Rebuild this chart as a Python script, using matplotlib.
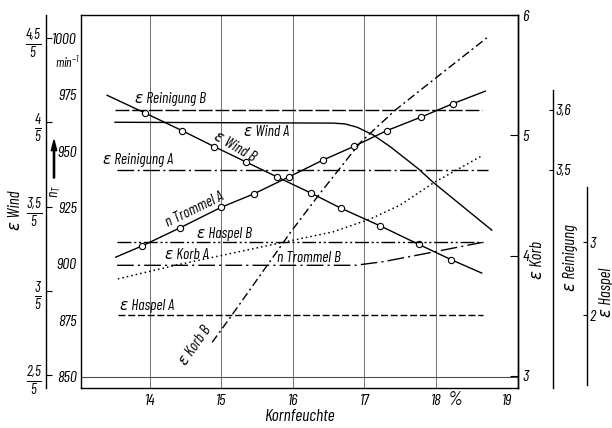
import matplotlib
matplotlib.use("Agg")
import matplotlib.pyplot as plt
from matplotlib import font_manager
from matplotlib.patches import FancyArrow

# Kornfeuchte in %
wind_a_x = [13.51, 16.56, 16.73, 16.90, 17.12, 17.36, 17.75, 17.97, 18.78]
wind_a = [0.800, 0.799, 0.798, 0.794, 0.785, 0.771, 0.745, 0.728, 0.672]

wind_b_x = [13.40, 13.93, 14.45, 14.90, 15.34, 15.78, 16.25, 16.67, 17.22, 17.76, 18.21, 18.64]
wind_b = [0.832, 0.811, 0.790, 0.771, 0.753, 0.735, 0.716, 0.698, 0.677, 0.655, 0.637, 0.621]

trommel_a_x = [13.52, 13.89, 14.42, 14.99, 15.45, 15.94, 16.42, 16.85, 17.31, 17.79, 18.24, 18.69]
trommel_a = [903, 908, 916, 925, 931, 938.5, 946, 952, 959, 965, 971, 976.5]

trommel_b_x = [13.55, 14.38, 15.82, 16.56, 17.08, 17.50, 17.96, 18.66]
trommel_b = [893.4, 899.6, 909.3, 914.2, 919.9, 926.1, 935.8, 948.2]

korb_a_x = [13.54, 16.87, 17.26, 17.96, 18.64]
korb_a = [3.92, 3.92, 3.95, 4.03, 4.11]

korb_b_x = [14.87, 15.15, 15.64, 15.96, 16.38, 16.94, 17.43, 17.96, 18.73]
korb_b = [3.28, 3.51, 3.92, 4.19, 4.52, 4.94, 5.21, 5.46, 5.82]

reinigung_a_x = [13.54, 18.73]
reinigung_a = [3.5, 3.5]
reinigung_b_x = [13.51, 18.64]
reinigung_b = [3.6, 3.6]

haspel_a_x = [13.55, 18.66]
haspel_a = [2.0, 2.0]
haspel_b_x = [13.54, 18.66]
haspel_b = [3.0, 3.0]

x_ticks = [14, 15, 16, 17, 18, 19]
n_ticks = [850, 875, 900, 925, 950, 975, 1000]
wind_ticks = [0.5, 0.6, 0.7, 0.8, 0.9]
wind_labels = [r"$\frac{2{,}5}{5}$", r"$\frac{3}{5}$", r"$\frac{3{,}5}{5}$", r"$\frac{4}{5}$", r"$\frac{4{,}5}{5}$"]
korb_ticks = [3, 4, 5, 6]
rein_ticks = [3.5, 3.6]
rein_labels = ["3,5", "3,6"]
haspel_ticks = [2, 3]

# schmale Schrift suchen (wie DIN-Normschrift)
installed = {f.name for f in font_manager.fontManager.ttflist}
font = "DejaVu Sans"
for cand in ["Barlow Condensed", "Barlow Semi Condensed", "Roboto Condensed", "Liberation Sans Narrow"]:
    if cand in installed:
        font = cand
        break

plt.rcParams["font.family"] = [font, "DejaVu Sans"]
plt.rcParams["font.style"] = "italic"
plt.rcParams["font.size"] = 11
plt.rcParams["mathtext.fontset"] = "custom"
plt.rcParams["mathtext.rm"] = font + ":italic"
plt.rcParams["mathtext.it"] = font + ":italic"
plt.rcParams["mathtext.default"] = "it"
plt.rcParams["axes.linewidth"] = 1.0

fig = plt.figure(figsize=(6.12, 4.28), dpi=100)
ax = fig.add_axes([81 / 612, 1 - 388 / 428, 437 / 612, 373 / 428])
ax.set_xlim(13.035, 19.147)
ax.set_ylim(845.1, 1010.2)

# senkrechte Gitterlinien
for xt in x_ticks[:-1]:
    ax.axvline(xt, color="0.35", lw=0.6, zorder=0)
ax.axhline(n_ticks[0], color="0.3", lw=0.8, zorder=0)

ax.set_xticks(x_ticks)
ax.tick_params(axis="x", length=0, pad=4, labelsize=11.5)
ax.set_yticks(n_ticks)
ax.tick_params(axis="y", length=0, pad=3, labelsize=11.5)
ax.set_xlabel("Kornfeuchte", labelpad=1, fontsize=12.5)

# Drehzahl der Trommel (linke Achse)
ax.plot(trommel_a_x, trommel_a, color="k", lw=1.0, marker="o", ms=4.5,
        mfc="white", mew=0.8, markevery=slice(1, -1))
ax.plot(trommel_b_x, trommel_b, color="k", lw=1.1, dashes=(1, 2))

# E Wind - aeussere linke Achse
ax_wind = ax.twinx()
ax_wind.set_ylim(0.4846, 0.9273)
ax_wind.spines["left"].set_visible(True)
ax_wind.spines["left"].set_position(("axes", -0.0801))
ax_wind.spines["right"].set_visible(False)
ax_wind.spines["top"].set_visible(False)
ax_wind.spines["bottom"].set_visible(False)
ax_wind.yaxis.set_ticks_position("left")
ax_wind.yaxis.set_label_position("left")
ax_wind.set_yticks(wind_ticks)
ax_wind.set_yticklabels(wind_labels, fontsize=15)
ax_wind.tick_params(axis="y", direction="in", length=4, pad=3)
ax_wind.plot(wind_a_x, wind_a, color="k", lw=1.0)
ax_wind.plot(wind_b_x, wind_b, color="k", lw=1.0, marker="o", ms=4.5,
             mfc="white", mew=0.8, markevery=slice(1, -1))

# E Korb - rechte Achse am Rahmen
ax_korb = ax.twinx()
ax_korb.set_ylim(2.900, 6.001)
ax_korb.spines["top"].set_visible(False)
ax_korb.spines["bottom"].set_visible(False)
ax_korb.spines["left"].set_visible(False)
ax_korb.set_yticks(korb_ticks)
ax_korb.tick_params(axis="y", direction="in", length=6, pad=3, labelsize=11.5)
ax_korb.plot(korb_a_x, korb_a, color="k", lw=1.0, dashes=(12, 3, 1.5, 3))
ax_korb.plot(korb_b_x, korb_b, color="k", lw=1.0, dashes=(6, 2.5, 1.5, 2.5))

# E Reinigung
ax_rein = ax.twinx()
ax_rein.set_ylim(3.1367, 3.758)
for s in ["top", "bottom", "left"]:
    ax_rein.spines[s].set_visible(False)
ax_rein.spines["right"].set_position(("axes", 472 / 437))
ax_rein.spines["right"].set_bounds(3.1367, 3.633)
ax_rein.set_yticks(rein_ticks)
ax_rein.set_yticklabels(rein_labels)
ax_rein.tick_params(axis="y", direction="in", length=3, pad=2, labelsize=11.5)
ax_rein.plot(reinigung_a_x, reinigung_a, color="k", lw=1.0, dashes=(12, 2.5, 1.5, 2.5))
ax_rein.plot(reinigung_b_x, reinigung_b, color="k", lw=1.0, dashes=(10, 2))

# E Haspel
ax_hasp = ax.twinx()
ax_hasp.set_ylim(1.0, 6.11)
for s in ["top", "bottom", "left"]:
    ax_hasp.spines[s].set_visible(False)
ax_hasp.spines["right"].set_position(("axes", 506 / 437))
ax_hasp.spines["right"].set_bounds(1.041, 3.753)
ax_hasp.set_yticks(haspel_ticks)
ax_hasp.tick_params(axis="y", direction="in", length=3, pad=2, labelsize=11.5)
ax_hasp.plot(haspel_a_x, haspel_a, color="k", lw=1.0, dashes=(5, 2))
ax_hasp.plot(haspel_b_x, haspel_b, color="k", lw=1.0, dashes=(10, 2, 1.5, 2, 1.5, 2))

# Beschriftungen der Kurven
ax.text(13.79, 973, "ε Reinigung B", ha="left", va="center")
ax.text(15.31, 958.4, "ε Wind A", ha="left", va="center")
ax.text(15.19, 952, "ε Wind B", ha="center", va="center", rotation=-30)
ax.text(13.34, 946, "ε Reinigung A", ha="left", va="center")
ax.text(14.63, 924, "n Trommel A", ha="center", va="center", rotation=26)
ax.text(14.66, 913.3, "ε Haspel B", ha="left", va="center")
ax.text(14.21, 904, "ε Korb A", ha="left", va="center")
ax.text(15.78, 902.7, "n Trommel B", ha="left", va="center")
ax.text(13.58, 881.4, "ε Haspel A", ha="left", va="center")
ax.text(14.63, 863.7, "ε Korb B", ha="center", va="center", rotation=55)

# Achsenbeschriftungen aussen
fig.text(455 / 612, 1 - 400 / 428, "%", ha="center", va="center", fontsize=14)
fig.text(67 / 612, 1 - 63 / 428, "min$^{-1}$", ha="center", va="center", fontsize=9.5)
fig.text(56 / 612, 1 - 191 / 428, "n$_T$", ha="center", va="center", rotation=90)
fig.add_artist(FancyArrow(54 / 612, 1 - 178 / 428, 0, 38 / 428,
                          width=0.002, head_width=0.009, head_length=0.025,
                          length_includes_head=True, color="k",
                          transform=fig.transFigure))
fig.text(16 / 612, 1 - 210 / 428, "ε Wind", ha="center", va="center", rotation=90, fontsize=12)
fig.text(538 / 612, 1 - 260 / 428, "ε Korb", ha="center", va="center", rotation=90, fontsize=12)
fig.text(571 / 612, 1 - 258 / 428, "ε Reinigung", ha="center", va="center", rotation=90, fontsize=12)
fig.text(606 / 612, 1 - 292 / 428, "ε Haspel", ha="center", va="center", rotation=90, fontsize=12)

fig.savefig("out.png", dpi=100)
